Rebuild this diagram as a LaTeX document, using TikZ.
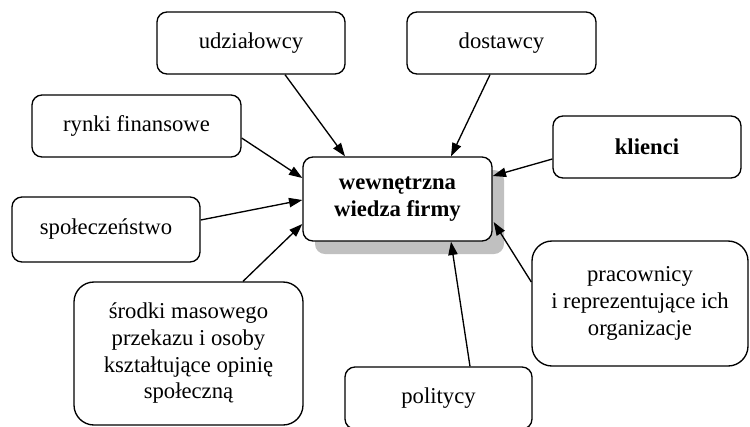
\documentclass[tikz,border=0pt]{standalone}
\usepackage{fontspec}
\setmainfont{Liberation Serif}
\usetikzlibrary{arrows.meta,positioning,calc,shadows}
\definecolor{MapInk}{HTML}{000000}
\definecolor{MapPaper}{HTML}{FFFFFF}
\definecolor{MapShade}{HTML}{C0C0C0}
\tikzset{
  actor/.style={draw=MapInk,line width=1pt,fill=MapPaper,rounded corners=7.5pt,align=center,inner sep=0pt,font=\fontsize{17}{20}\selectfont},
  bigactor/.style={actor,rounded corners=15pt},
  flow/.style={draw=MapInk,line width=1pt,-{Triangle[length=10pt,width=7pt]}}
}

\begin{document}
\begin{tikzpicture}[x=0.75pt,y=-0.75pt]
\useasboundingbox[fill=MapPaper] (0,0) rectangle (750,426);
\node[actor,minimum width=141.75pt,minimum height=63pt,font=\fontsize{17}{20}\selectfont\bfseries,drop shadow={shadow xshift=9pt,shadow yshift=-9.75pt,fill=MapShade,opacity=1}] (firm) at (397.5,199) {wewnętrzna\\wiedza firmy};
\node[actor,minimum width=141pt,minimum height=46.5pt] (udz) at (251,43) {udziałowcy};
\node[actor,minimum width=141.75pt,minimum height=46.5pt] (dost) at (501.5,43) {dostawcy};
\node[actor,minimum width=156.75pt,minimum height=46.5pt] (rynki) at (136.5,126) {rynki finansowe};
\node[actor,minimum width=141pt,minimum height=48.75pt] (spol) at (106,229.5) {społeczeństwo};
\node[bigactor,minimum width=171.75pt,minimum height=107.25pt] (media) at (188.5,353.5) {środki masowego\\przekazu i osoby\\kształtujące opinię\\społeczną};
\node[actor,minimum width=141pt,minimum height=46.5pt,font=\fontsize{17}{20}\selectfont\bfseries] (klienci) at (647,147) {klienci};
\node[bigactor,minimum width=162pt,minimum height=93.75pt] (prac) at (640,303.5) {pracownicy\\i reprezentujące ich\\organizacje};
\node[actor,minimum width=140.25pt,minimum height=46.5pt] (polit) at (438.5,398) {politycy};
\draw[flow] ($(udz.south)+(34,0)$) -- ($(firm.north)+(-52.5,0)$);
\draw[flow] ($(dost.south)+(-11.5,0)$) -- ($(firm.north)+(53.5,0)$);
\draw[flow] ($(rynki.east)+(0,12)$) -- ($(firm.west)+(0,-21)$);
\draw[flow] ($(spol.east)+(0,-9.5)$) -- ($(firm.west)+(0,1)$);
\draw[flow] ($(media.north)+(54.5,0)$) -- ($(firm.west)+(0,25)$);
\draw[flow] ($(klienci.west)+(0,12)$) -- ($(firm.east)+(0,-23)$);
\draw[flow] ($(prac.west)+(0,-21.5)$) -- ($(firm.east)+(1,23)$);
\draw[flow] ($(polit.north)+(31.5,0)$) -- ($(firm.south)+(53.5,0)$);
\end{tikzpicture}
\end{document}
